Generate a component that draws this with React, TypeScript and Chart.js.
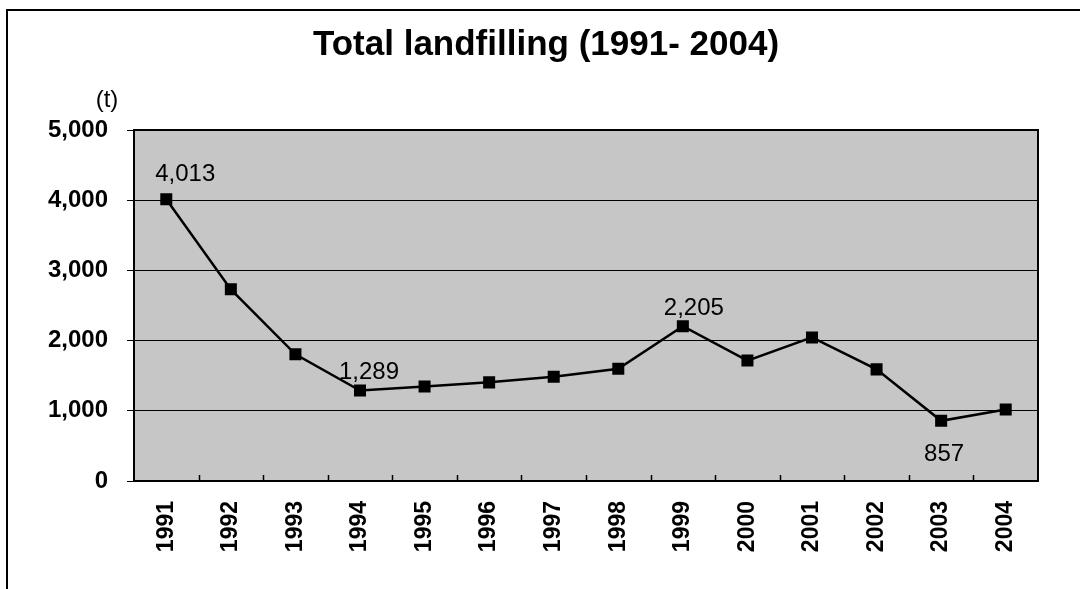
import React, { useEffect, useRef } from "react";
import { Chart, registerables } from "chart.js";

Chart.register(...registerables);

const years = ["1991","1992","1993","1994","1995","1996","1997","1998","1999","2000","2001","2002","2003","2004"];
const landfill = [4013, 2730, 1805, 1289, 1345, 1405, 1485, 1600, 2205, 1715, 2045, 1590, 857, 1020];
const labeledIdx = [0, 3, 8, 12];
const yTicks = [0, 1000, 2000, 3000, 4000, 5000];
const titleText = "Total landfilling (1991- 2004)";
const unitText = "(t)";

const labelStyle: Record<number, { dx: number; dy: number }> = {
  0: { dx: 19, dy: -25 },
  3: { dx: 9, dy: -18 },
  8: { dx: 11, dy: -18 },
  12: { dx: 3, dy: 34 },
};

const fmt = (v: number) => v.toLocaleString("en-US");
const FONT = "'Liberation Sans', Arial, sans-serif";

const decorPlugin = {
  id: "decor",
  beforeDraw(chart: any) {
    const { ctx, chartArea } = chart;
    ctx.save();
    ctx.fillStyle = "#ffffff";
    ctx.fillRect(0, 0, chart.width, chart.height);
    ctx.fillStyle = "#c6c6c6";
    ctx.fillRect(chartArea.left, chartArea.top, chartArea.right - chartArea.left, chartArea.bottom - chartArea.top);
    ctx.restore();
  },
  afterDraw(chart: any) {
    const { ctx, chartArea } = chart;
    ctx.save();
    ctx.strokeStyle = "#000";
    ctx.lineWidth = 2;
    ctx.beginPath();
    ctx.moveTo(7, chart.height);
    ctx.lineTo(7, 10);
    ctx.lineTo(chart.width, 10);
    ctx.stroke();
    ctx.lineWidth = 2;
    ctx.strokeRect(chartArea.left, chartArea.top, chartArea.right - chartArea.left, chartArea.bottom - chartArea.top);
    ctx.lineWidth = 1.5;
    const n = years.length;
    const w = (chartArea.right - chartArea.left) / n;
    ctx.beginPath();
    for (let i = 1; i < n; i++) {
      const x = Math.round(chartArea.left + i * w) + 0.5;
      ctx.moveTo(x, chartArea.bottom);
      ctx.lineTo(x, chartArea.bottom - 6);
    }
    ctx.stroke();
    ctx.fillStyle = "#000";
    ctx.textAlign = "center";
    ctx.textBaseline = "middle";
    ctx.font = `bold 35px ${FONT}`;
    ctx.fillText(titleText, 546, 45);
    ctx.font = `24px ${FONT}`;
    ctx.fillText(unitText, 107, 100);
    const meta = chart.getDatasetMeta(0);
    ctx.font = `24px ${FONT}`;
    labeledIdx.forEach((i) => {
      const pt = meta.data[i];
      const st = labelStyle[i] || { dx: 0, dy: -18 };
      ctx.fillText(fmt(landfill[i]), pt.x + st.dx, pt.y + st.dy);
    });
    ctx.restore();
  },
};

export default function App() {
  const ref = useRef<HTMLCanvasElement>(null);
  useEffect(() => {
    document.body.style.margin = "0";
    const canvas = ref.current!;
    const chart = new Chart(canvas, {
      type: "line",
      data: {
        labels: years,
        datasets: [
          {
            data: landfill,
            borderColor: "#000",
            borderWidth: 2.5,
            pointStyle: "rect",
            pointRadius: 8.5,
            pointBackgroundColor: "#000",
            pointBorderColor: "#000",
            pointBorderWidth: 0,
            tension: 0,
            fill: false,
          },
        ],
      },
      options: {
        responsive: false,
        animation: false,
        devicePixelRatio: 1,
        layout: { padding: { left: 0, right: 42, top: 130, bottom: 0 } },
        plugins: {
          legend: { display: false },
          title: { display: false },
          tooltip: { enabled: false },
        },
        scales: {
          x: {
            type: "category",
            offset: true,
            grid: { display: false, drawTicks: false },
            border: { display: false },
            ticks: {
              minRotation: 90,
              maxRotation: 90,
              padding: 20,
              color: "#000",
              font: { family: FONT, size: 23, weight: "bold" },
            },
            afterFit: (s: any) => { s.height = 108; },
          },
          y: {
            min: 0,
            max: 5000,
            afterBuildTicks: (s: any) => { s.ticks = yTicks.map((v) => ({ value: v })); },
            grid: { color: "#000", lineWidth: 1, tickLength: 7, drawTicks: true },
            border: { display: false },
            ticks: {
              padding: 19,
              color: "#000",
              font: { family: FONT, size: 24, weight: "bold" },
              callback: (v: any) => fmt(Number(v)),
            },
            afterFit: (s: any) => { s.width = 134; },
          },
        },
      },
      plugins: [decorPlugin],
    });
    return () => chart.destroy();
  }, []);
  return <canvas ref={ref} width={1080} height={589} style={{ display: "block" }} />;
}
